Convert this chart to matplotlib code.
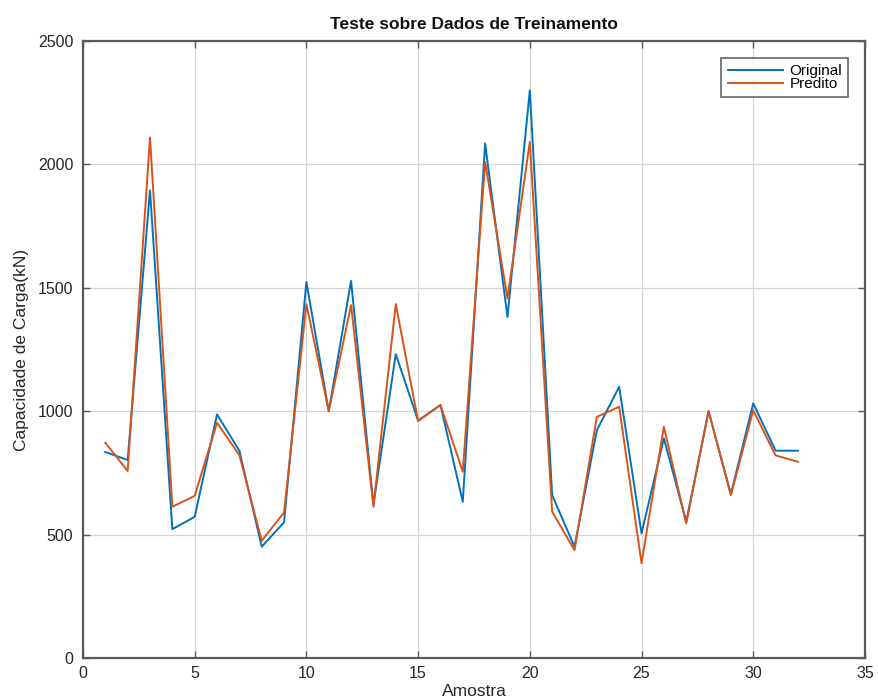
import matplotlib
matplotlib.use("Agg")
import matplotlib.pyplot as plt

plt.rcParams['font.family'] = ['Liberation Sans', 'DejaVu Sans']

amostra = list(range(1, 33))
original = [835, 802, 1895, 522, 572, 987, 840, 451, 550, 1524,
            1000, 1528, 620, 1231, 962, 1025, 633, 2085, 1382, 2300,
            660, 451, 923, 1099, 505, 890, 552, 1000, 664, 1032,
            840, 840]
predito = [872, 758, 2109, 613, 657, 953, 822, 475, 590, 1434,
           1000, 1430, 613, 1434, 960, 1025, 755, 2010, 1457, 2091,
           593, 437, 977, 1018, 384, 937, 545, 1000, 660, 1004,
           821, 795]

xticks = [0, 5, 10, 15, 20, 25, 30, 35]
yticks = [0, 500, 1000, 1500, 2000, 2500]

fig = plt.figure(figsize=(8.79, 7.0), dpi=100)
ax = fig.add_axes([0.0944, 0.06, 0.8896, 0.8814])

ax.plot(amostra, original, color='#0072BD', lw=1.4, label='Original')
ax.plot(amostra, predito, color='#D95319', lw=1.4, label='Predito')

ax.set_xlim(0, 35)
ax.set_ylim(0, 2500)
ax.set_xticks(xticks)
ax.set_yticks(yticks)
ax.grid(True, color='#d6d6d6', lw=0.9)
ax.set_axisbelow(True)

for s in ax.spines.values():
    s.set_color('#5a5a5a')
    s.set_linewidth(1.6)
ax.tick_params(direction='in', length=5, width=1.0, colors='#5a5a5a',
               labelcolor='#262626', labelsize=11.5,
               top=True, right=True)
ax.tick_params(axis='x', pad=6)
ax.tick_params(axis='y', pad=7)

ax.set_title('Teste sobre Dados de Treinamento', fontsize=12.5,
             fontweight='bold', color='#111111', pad=9)
ax.set_xlabel('Amostra', fontsize=12.5, color='#262626', labelpad=2)
ax.set_ylabel('Capacidade de Carga(kN)', fontsize=12.5, color='#262626', labelpad=6)

leg = ax.legend(loc='upper right', bbox_to_anchor=(0.9785, 0.972),
                fontsize=11, frameon=True, fancybox=False,
                handlelength=3.6, handletextpad=0.45, borderpad=0.4,
                labelspacing=-0.08, borderaxespad=0.0)
leg.get_frame().set_edgecolor('#404040')
leg.get_frame().set_linewidth(1.2)

fig.savefig('out.png', dpi=100)
